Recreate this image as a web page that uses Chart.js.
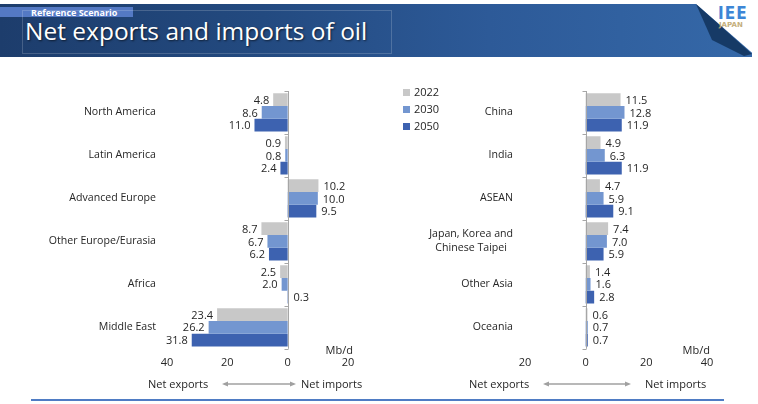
<!DOCTYPE html>
<html>
<head>
<meta charset="utf-8">
<script src="https://cdn.jsdelivr.net/npm/chart.js"></script>
<style>
  body { margin: 0; width: 758px; height: 404px; overflow: hidden; background: #fff; position: relative; font-family: "Open Sans", sans-serif; color: #262626; }
  #banner { position: absolute; left: 0; top: 4px; width: 752px; height: 53px; background: linear-gradient(90deg, #1d3d6c 0%, #234a80 35%, #2d5a98 65%, #3568a8 100%); overflow: hidden; }
  #scen { position: absolute; left: 0; top: 3px; width: 133px; height: 10px; background: #5479c4; }
  #scen span { position: absolute; left: 31px; top: -1px; font: bold 9px "Open Sans", sans-serif; color: #fff; white-space: nowrap; }
  #tbox { position: absolute; left: 22px; top: 6px; width: 368px; height: 42px; border: 1px solid rgba(255,255,255,0.18); }
  #title { position: absolute; left: 25px; top: 15px; font-size: 24px; line-height: 24px; color: #fff; white-space: nowrap; transform-origin: left center; text-shadow: 1px 1px 2px rgba(0,0,0,0.6); }
  #curl { position: absolute; left: 0; top: 0; }
  #logo1 { position: absolute; left: 718px; top: 3px; font: bold 17px "DejaVu Sans Condensed", sans-serif; color: #3d86d6; letter-spacing: 1px; }
  #logo2 { position: absolute; left: 719px; top: 21px; font: bold 7px "DejaVu Sans", sans-serif; color: #c4ae7c; }
  canvas { position: absolute; }
  #legend { position: absolute; left: 403px; top: 85px; font-size: 11px; }
  #legend div { height: 17px; line-height: 14px; white-space: nowrap; }
  #legend i { display: inline-block; width: 7px; height: 7px; margin-right: 4px; vertical-align: 0px; }
  .lab { position: absolute; font-size: 11px; white-space: nowrap; top: 376px; }
  #bottomline { position: absolute; left: 31px; top: 399px; width: 693px; height: 2px; background: #4f7cc4; }
</style>
</head>
<body>
<div id="banner">
  <div id="scen"><span>Reference Scenario</span></div>
  <div id="tbox"></div>
  <div id="title">Net exports and imports of oil</div>
</div>
<svg id="curl" width="758" height="60">
  <polygon points="696,4 758,4 758,58" fill="#ffffff"/>
  <polygon points="696,4 752,54 744,56 712,40" fill="#163a66"/>
</svg>
<div id="logo1">IEE</div>
<div id="logo2">JAPAN</div>

<canvas id="leftChart" width="380" height="312" style="left:0;top:80px"></canvas>
<canvas id="rightChart" width="378" height="312" style="left:380px;top:80px"></canvas>
<div id="legend"></div>

<div class="lab" style="left:148px">Net exports</div>
<div class="lab" style="left:301px">Net imports</div>
<div class="lab" style="left:469px">Net exports</div>
<div class="lab" style="left:645px">Net imports</div>
<svg style="position:absolute;left:0;top:376px" width="758" height="16">
  <g stroke="#a0a0a0" stroke-width="1.5" fill="#a0a0a0">
    <line x1="226" y1="8" x2="292" y2="8"/>
    <polygon points="222,8 228,5.5 228,10.5" stroke="none"/>
    <polygon points="296,8 290,5.5 290,10.5" stroke="none"/>
    <line x1="547" y1="8" x2="627" y2="8"/>
    <polygon points="543,8 549,5.5 549,10.5" stroke="none"/>
    <polygon points="631,8 625,5.5 625,10.5" stroke="none"/>
  </g>
</svg>
<div id="bottomline"></div>

<script>
// series (exports shown as negative values, imports positive)
const seriesNames = ['2022', '2030', '2050'];
const seriesColors = ['#c8c8c8', '#7396d0', '#3d62b0'];

const leftCategories = ['North America', 'Latin America', 'Advanced Europe', 'Other Europe/Eurasia', 'Africa', 'Middle East'];
const left2022 = [-4.8, -0.9, 10.2, -8.7, -2.5, -23.4];
const left2030 = [-8.6, -0.8, 10.0, -6.7, -2.0, -26.2];
const left2050 = [-11.0, -2.4, 9.5, -6.2, 0.3, -31.8];
const leftTicks = [-40, -20, 0, 20];

const rightCategories = ['China', 'India', 'ASEAN', ['Japan, Korea and', 'Chinese Taipei'], 'Other Asia', 'Oceania'];
const right2022 = [11.5, 4.9, 4.7, 7.4, 1.4, 0.6];
const right2030 = [12.8, 6.3, 5.9, 7.0, 1.6, 0.7];
const right2050 = [11.9, 11.9, 9.1, 5.9, 2.8, 0.7];
const rightTicks = [-20, 0, 20, 40];

const FONT = '"Open Sans", sans-serif';
const TXT = '#262626';

// title width to match the original narrow face
const t = document.getElementById('title');
t.style.transform = 'scaleX(' + (342 / t.offsetWidth) + ')';

// legend
document.getElementById('legend').innerHTML = seriesNames.map((n, i) =>
  '<div><i style="background:' + seriesColors[i] + '"></i>' + n + '</div>').join('');

// zero axis, tick marks, value labels, category labels, unit
const decor = {
  id: 'decor',
  afterDatasetsDraw(chart, args, opts) {
    const ctx = chart.ctx, area = chart.chartArea, xs = chart.scales.x;
    const x0 = Math.round(xs.getPixelForValue(0)) + 0.5;
    const n = chart.data.labels.length;
    ctx.save();
    ctx.strokeStyle = '#a6a6a6';
    ctx.lineWidth = 1;
    ctx.beginPath();
    ctx.moveTo(x0, area.top);
    ctx.lineTo(x0, area.bottom);
    for (let i = 0; i <= n; i++) {
      const y = Math.round(area.top + (area.bottom - area.top) * i / n) + 0.5;
      ctx.moveTo(x0 - 4, y);
      ctx.lineTo(x0, y);
    }
    ctx.stroke();

    ctx.font = '11px ' + FONT;
    ctx.fillStyle = TXT;
    ctx.textBaseline = 'middle';
    chart.data.datasets.forEach((ds, di) => {
      chart.getDatasetMeta(di).data.forEach((bar, j) => {
        const v = ds.data[j];
        const s = Math.abs(v).toFixed(1);
        if (v < 0) { ctx.textAlign = 'right'; ctx.fillText(s, bar.x - 4, bar.y + 1); }
        else { ctx.textAlign = 'left'; ctx.fillText(s, bar.x + 5, bar.y + 1); }
      });
    });

    // category names
    ctx.font = '10.6px ' + FONT;
    const right = area.left - opts.gap;
    chart.data.labels.forEach((lab, i) => {
      const y = area.top + (area.bottom - area.top) * (i + 0.5) / n;
      const lines = Array.isArray(lab) ? lab : [lab];
      const w = Math.max(...lines.map(l => ctx.measureText(l).width));
      lines.forEach((l, k) => {
        const yy = y + (k - (lines.length - 1) / 2) * 14;
        if (lines.length > 1) { ctx.textAlign = 'center'; ctx.fillText(l, right - w / 2, yy); }
        else { ctx.textAlign = 'right'; ctx.fillText(l, right, yy); }
      });
    });

    ctx.font = '11px ' + FONT;
    ctx.textAlign = 'right';
    ctx.fillText('Mb/d', area.right + opts.unitDx, area.bottom + 2);
    ctx.restore();
  }
};

function makeChart(id, cats, s1, s2, s3, ticks, pad, gap, unitDx) {
  const data = [s1, s2, s3];
  return new Chart(document.getElementById(id).getContext('2d'), {
    type: 'bar',
    data: {
      labels: cats,
      datasets: seriesNames.map((name, i) => ({
        label: name,
        data: data[i],
        backgroundColor: seriesColors[i],
        borderWidth: 0,
        categoryPercentage: 0.89,
        barPercentage: 1.0
      }))
    },
    options: {
      indexAxis: 'y',
      responsive: false,
      animation: false,
      layout: { padding: pad },
      scales: {
        x: {
          min: ticks[0],
          max: ticks[ticks.length - 1],
          ticks: {
            stepSize: 20,
            callback: v => Math.abs(v),
            font: { size: 11, family: FONT },
            color: TXT,
            padding: 7
          },
          grid: { display: false, drawTicks: false },
          border: { display: false }
        },
        y: { display: false, offset: true }
      },
      plugins: {
        legend: { display: false },
        tooltip: { enabled: false },
        decor: { gap: gap, unitDx: unitDx }
      }
    },
    plugins: [decor]
  });
}

makeChart('leftChart', leftCategories, left2022, left2030, left2050, leftTicks,
  { left: 167, right: 32, top: 11, bottom: 16 }, 11, 5);
makeChart('rightChart', rightCategories, right2022, right2030, right2050, rightTicks,
  { left: 145, right: 51, top: 11, bottom: 16 }, 12, 3);
</script>
</body>
</html>
